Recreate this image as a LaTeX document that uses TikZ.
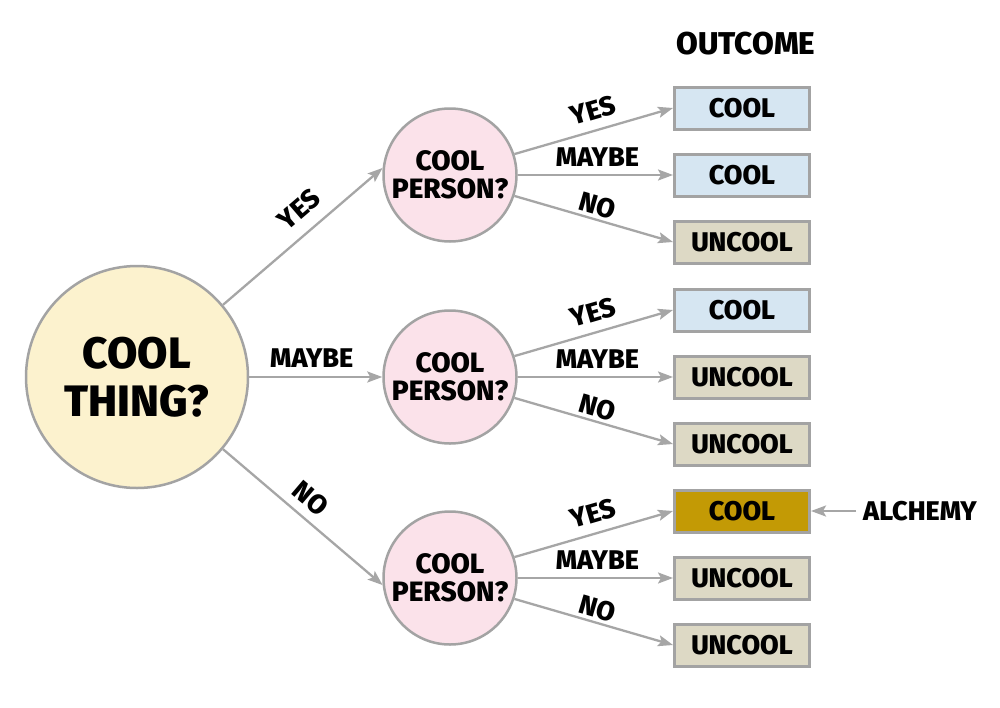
\documentclass[tikz,border=0pt]{standalone}
\usepackage{fontspec}
\setmainfont{Fira Sans}[BoldFont={Fira Sans ExtraBold}]
\usetikzlibrary{arrows.meta}
\definecolor{cream}{HTML}{FCF2CE}
\definecolor{pinkfill}{HTML}{FBE2EA}
\definecolor{coolblue}{HTML}{D6E6F2}
\definecolor{uncoolbeige}{HTML}{DDD9C5}
\definecolor{gold}{HTML}{C39A05}
\definecolor{edgegrey}{HTML}{A6A6A6}
\definecolor{bordergrey}{HTML}{A3A3A3}
\tikzset{
  bigq/.style={circle, draw=bordergrey, line width=2.5pt, fill=cream, minimum size=222pt, inner sep=0pt, align=center, font=\fontsize{44}{48}\selectfont\bfseries},
  personq/.style={circle, draw=bordergrey, line width=2.5pt, fill=pinkfill, minimum size=133pt, inner sep=0pt, align=center, font=\fontsize{28}{28}\selectfont\bfseries},
  outbox/.style={rectangle, draw=bordergrey, line width=3pt, minimum width=135pt, minimum height=42pt, inner sep=0pt, font=\fontsize{27}{28}\selectfont\bfseries},
  coolbox/.style={outbox, fill=coolblue},
  uncoolbox/.style={outbox, fill=uncoolbeige},
  goldbox/.style={outbox, fill=gold},
  conn/.style={draw=edgegrey, line width=2.3pt, -{Stealth[length=15pt,width=11pt,inset=3pt]}},
  lab/.style={font=\fontsize{27}{28}\selectfont\bfseries, inner sep=0pt},
  plain/.style={font=\fontsize{27}{29}\selectfont\bfseries, inner sep=0pt},
  head/.style={font=\fontsize{31.5}{32}\selectfont\bfseries, inner sep=0pt}
}
\begin{document}
\begin{tikzpicture}[x=1pt,y=-1pt]
\useasboundingbox (0,0) rectangle (1000,707);
\fill[white] (0,0) rectangle (1000,707);

\node[bigq] (thing) at (137,377) {COOL\\THING?};
\node[personq] (p1) at (450,175) {COOL\\PERSON?};
\node[personq] (p2) at (450,377) {COOL\\PERSON?};
\node[personq] (p3) at (450,578) {COOL\\PERSON?};

\node[head] (outcome) at (746,44) {OUTCOME};

\node[coolbox]   (o1) at (742,108) {COOL};
\node[coolbox]   (o2) at (742,175) {COOL};
\node[uncoolbox] (o3) at (742,242) {UNCOOL};
\node[coolbox]   (o4) at (742,310) {COOL};
\node[uncoolbox] (o5) at (742,377) {UNCOOL};
\node[uncoolbox] (o6) at (742,444) {UNCOOL};
\node[goldbox]   (o7) at (742,511) {COOL};
\node[uncoolbox] (o8) at (742,578) {UNCOOL};
\node[uncoolbox] (o9) at (742,645) {UNCOOL};

\node[plain, anchor=west] (alch) at (863,511) {ALCHEMY};

% first level
\draw[conn] (thing.40) -- node[lab, sloped, above=12pt, pos=0.57] {YES} (p1.174);
\draw[conn] (thing.east) -- node[lab, above=8pt, xshift=-4pt] {MAYBE} (p2.west);
\draw[conn] (thing.-40) -- node[lab, sloped, above=8.5pt, pos=0.47] {NO} (p3.186);

% second level
\foreach \p/\a/\b/\c in {p1/o1/o2/o3, p2/o4/o5/o6, p3/o7/o8/o9}{
  \draw[conn] (\p.18) -- node[lab, sloped, above=9pt, pos=0.53] {YES} (\a.west);
  \draw[conn] (\p.east) -- node[lab, above=7pt, xshift=2pt] {MAYBE} (\b.west);
  \draw[conn] (\p.-18) -- node[lab, sloped, above=3pt] {NO} (\c.west);
}

\coordinate (alchstart) at ([xshift=-7pt]alch.west);
\draw[conn] (alchstart) -- (o7.east);
\end{tikzpicture}
\end{document}
